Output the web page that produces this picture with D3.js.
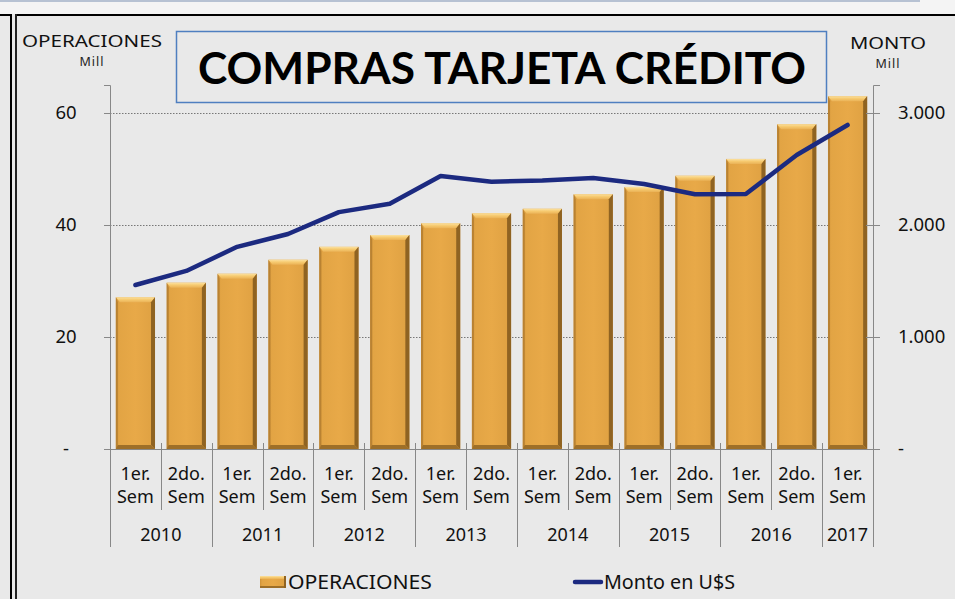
<!DOCTYPE html>
<html><head><meta charset="utf-8">
<script src="https://cdn.jsdelivr.net/npm/d3@7"></script>
<style>body{margin:0;background:#e9e9e9;overflow:hidden} svg{display:block}</style>
</head><body>
<script>
// ---- data ----
const semesters = ["1er. Sem","2do. Sem","1er. Sem","2do. Sem","1er. Sem","2do. Sem","1er. Sem","2do. Sem","1er. Sem","2do. Sem","1er. Sem","2do. Sem","1er. Sem","2do. Sem","1er. Sem"];
const years = ["2010","2011","2012","2013","2014","2015","2016","2017"];
const yearSpans = [2,2,2,2,2,2,2,1];
const operaciones = [27.1, 29.7, 31.3, 33.8, 36.1, 38.2, 40.3, 42.1, 42.9, 45.5, 46.8, 48.8, 51.8, 58.0, 63.0];
const monto = [1464, 1590, 1805, 1920, 2115, 2190, 2437, 2387, 2397, 2420, 2366, 2275, 2277, 2625, 2893];
const leftTicks = [0, 20, 40, 60];
const rightTicks = [0, 1000, 2000, 3000];

const W = 955, H = 599;
const svg = d3.select("body").append("svg").attr("width", W).attr("height", H);
const font = "'Noto Sans', 'Open Sans', sans-serif";

// frame
svg.append("rect").attr("x",0).attr("y",0).attr("width",W).attr("height",H).attr("fill","#e9e9e9");
svg.append("rect").attr("x",0).attr("y",0).attr("width",W).attr("height",14).attr("fill","#f4f4f4");
svg.append("line").attr("x1",0).attr("x2",920).attr("y1",1).attr("y2",1).attr("stroke","#b7c2d3").attr("stroke-width",2);
svg.append("line").attr("x1",0).attr("x2",12).attr("y1",15).attr("y2",15).attr("stroke","#000").attr("stroke-width",2);
svg.append("line").attr("x1",15).attr("x2",W).attr("y1",15).attr("y2",15).attr("stroke","#000").attr("stroke-width",2);
svg.append("line").attr("x1",11).attr("x2",11).attr("y1",14).attr("y2",H).attr("stroke","#000").attr("stroke-width",2);
svg.append("line").attr("x1",16).attr("x2",16).attr("y1",14).attr("y2",H).attr("stroke","#222").attr("stroke-width",2);

// scales
const x0 = 110, x1 = 873, yBase = 449;
const x = d3.scaleBand().domain(d3.range(semesters.length)).range([x0, x1]).paddingInner(0.23).paddingOuter(0.115);
const xs = d3.scaleBand().domain(d3.range(semesters.length)).range([x0, x1]);
const yL = d3.scaleLinear().domain([0, 65]).range([yBase, 85]);
const yR = d3.scaleLinear().domain([0, 3250]).range([yBase, 85]);

const loc = d3.formatLocale({decimal:",", thousands:".", grouping:[3], currency:["$",""]});
const fmtR = loc.format(",d");

// gradients
const defs = svg.append("defs");
const g1 = defs.append("linearGradient").attr("id","barBody").attr("x1","0").attr("x2","1").attr("y1","0").attr("y2","0");
[[0,"#cf9238"],[0.08,"#e2a444"],[0.5,"#e8a948"],[0.9,"#e0a243"],[1,"#c98d36"]].forEach(s=>g1.append("stop").attr("offset",s[0]).attr("stop-color",s[1]));
const g2 = defs.append("linearGradient").attr("id","barTop").attr("x1","0").attr("x2","0").attr("y1","0").attr("y2","1");
[[0,"#fbe1a0"],[0.5,"#f6c96e"],[1,"#eab257"]].forEach(s=>g2.append("stop").attr("offset",s[0]).attr("stop-color",s[1]));

// gridlines
svg.append("g").selectAll("line").data(leftTicks.filter(d=>d>0)).join("line")
  .attr("x1",x0).attr("x2",x1).attr("y1",d=>Math.round(yL(d))+0.5).attr("y2",d=>Math.round(yL(d))+0.5)
  .attr("stroke","#777").attr("stroke-width",1).attr("stroke-dasharray","1.5,1.5");

// bars
const bars = svg.append("g");
operaciones.forEach((v,i)=>{
  const bx = x(i), bw = x.bandwidth(), by = yL(v), bh = yBase - yL(v);
  const g = bars.append("g");
  const b = 4;
  g.append("rect").attr("x",bx).attr("y",by).attr("width",bw).attr("height",bh).attr("fill","url(#barBody)");
  g.append("polygon").attr("points",[[bx,by],[bx+bw,by],[bx+bw-b,by+b+1],[bx+b,by+b+1]].join(" ")).attr("fill","url(#barTop)");
  g.append("polygon").attr("points",[[bx+bw,by],[bx+bw,by+bh],[bx+bw-b,by+bh-b],[bx+bw-b,by+b+1]].join(" ")).attr("fill","#8f6322");
  g.append("polygon").attr("points",[[bx,by],[bx,by+bh],[bx+2,by+bh-2],[bx+2,by+b+1]].join(" ")).attr("fill","#b98232");
  g.append("polygon").attr("points",[[bx,by+bh],[bx+bw,by+bh],[bx+bw-b,by+bh-b],[bx+2,by+bh-b]].join(" ")).attr("fill","#9e6f28");
});

// left axis
const axL = svg.append("g").attr("transform",`translate(${x0},0)`)
  .call(d3.axisLeft(yL).tickValues(leftTicks).tickSize(6).tickFormat(d=>d===0?"-":d));
axL.select(".domain").attr("stroke","#888");
axL.selectAll(".tick line").attr("stroke","#888");
axL.selectAll(".tick text").attr("font-family",font).attr("font-size",18.5).attr("fill","#111")
  .attr("text-anchor","middle").attr("x",-44);

// right axis
const axR = svg.append("g").attr("transform",`translate(${x1},0)`)
  .call(d3.axisRight(yR).tickValues(rightTicks).tickSize(7).tickFormat(d=>d===0?"-":fmtR(d)));
axR.select(".domain").attr("stroke","#888");
axR.selectAll(".tick line").attr("stroke","#888").attr("x1",-7);
axR.selectAll(".tick text").attr("font-family",font).attr("font-size",18.5).attr("fill","#111")
  .attr("text-anchor","start").attr("x",25);

// baseline
svg.append("line").attr("x1",x0).attr("x2",x1).attr("y1",yBase+0.5).attr("y2",yBase+0.5).attr("stroke","#888");

// category separators
const ends = d3.cumsum(yearSpans);
const yearBoundaries = [0, ...ends];
const sep = svg.append("g");
d3.range(semesters.length+1).forEach(i=>{
  const isYear = yearBoundaries.includes(i);
  const xx = (i<semesters.length? xs(i) : x1) ;
  sep.append("line").attr("x1",Math.round(xx)+0.5).attr("x2",Math.round(xx)+0.5)
    .attr("y1", i===0||i===semesters.length ? yBase : yBase-6).attr("y2", isYear?547:510)
    .attr("stroke","#888").attr("stroke-width",1);
});
// semester labels
const lab = svg.append("g").attr("font-family",font).attr("font-size",18).attr("fill","#111").attr("text-anchor","middle");
semesters.forEach((s,i)=>{
  const cx = xs(i)+xs.bandwidth()/2;
  const parts = s.split(" ");
  lab.append("text").attr("x",cx).attr("y",480).text(parts[0]);
  lab.append("text").attr("x",cx).attr("y",503).text(parts[1]);
});
years.forEach((yv,j)=>{
  const a = yearBoundaries[j], bnd = yearBoundaries[j+1];
  const cx = (xs(a) + (bnd<semesters.length?xs(bnd):x1))/2;
  lab.append("text").attr("x",cx).attr("y",541).text(yv);
});

// line
const line = d3.line().x((d,i)=>xs(i)+xs.bandwidth()/2).y(d=>yR(d));
svg.append("path").datum(monto).attr("d",line).attr("fill","none")
  .attr("stroke","#1c2a80").attr("stroke-width",4.5).attr("stroke-linejoin","round").attr("stroke-linecap","round");

// axis titles
svg.append("text").attr("x",92).attr("y",47).attr("text-anchor","middle").attr("font-family",font).attr("font-size",17).attr("fill","#111").attr("textLength",140).attr("lengthAdjust","spacingAndGlyphs").text("OPERACIONES");
svg.append("text").attr("x",92).attr("y",66).attr("text-anchor","middle").attr("font-family",font).attr("font-size",12.5).attr("fill","#222").attr("letter-spacing",1).text("Mill");
svg.append("text").attr("x",888).attr("y",49).attr("text-anchor","middle").attr("font-family",font).attr("font-size",17).attr("fill","#111").attr("textLength",76).attr("lengthAdjust","spacingAndGlyphs").text("MONTO");
svg.append("text").attr("x",888).attr("y",68).attr("text-anchor","middle").attr("font-family",font).attr("font-size",12.5).attr("fill","#222").attr("letter-spacing",1).text("Mill");

// title box
svg.append("rect").attr("x",176.5).attr("y",31.5).attr("width",650).attr("height",71).attr("fill","none").attr("stroke","#4f7fc0").attr("stroke-width",1.5);
svg.append("text").attr("x",502).attr("y",84).attr("text-anchor","middle").attr("font-family","Lato, 'Open Sans', sans-serif").attr("font-weight",700)
  .attr("font-size",44).attr("fill","#000").attr("textLength",608).attr("lengthAdjust","spacingAndGlyphs").text("COMPRAS TARJETA CRÉDITO");

// legend
const lg = svg.append("g");
const lx = 260, ly = 576, lw = 26, lh = 12;
lg.append("rect").attr("x",lx).attr("y",ly).attr("width",lw).attr("height",lh).attr("fill","url(#barBody)");
lg.append("rect").attr("x",lx).attr("y",ly).attr("width",lw).attr("height",3).attr("fill","url(#barTop)");
lg.append("rect").attr("x",lx).attr("y",ly+lh-2).attr("width",lw).attr("height",2).attr("fill","#9e6f28");
lg.append("rect").attr("x",lx+lw-2).attr("y",ly).attr("width",2).attr("height",lh).attr("fill","#8f6322");
lg.append("text").attr("x",288).attr("y",589).attr("font-family",font).attr("font-size",19.5).attr("fill","#111").attr("textLength",144).attr("lengthAdjust","spacingAndGlyphs").text("OPERACIONES");
lg.append("line").attr("x1",575).attr("x2",601).attr("y1",582).attr("y2",582).attr("stroke","#1c2a80").attr("stroke-width",4.5).attr("stroke-linecap","round");
lg.append("text").attr("x",604).attr("y",589).attr("font-family",font).attr("font-size",19.5).attr("fill","#111").attr("textLength",131).attr("lengthAdjust","spacingAndGlyphs").text("Monto en U$S");
</script>
</body></html>
